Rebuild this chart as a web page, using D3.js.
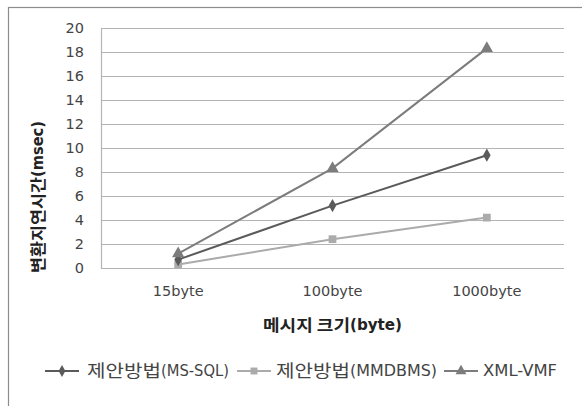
<!DOCTYPE html>
<html>
<head>
<meta charset="utf-8">
<script src="https://cdn.jsdelivr.net/npm/d3@7"></script>
<style>
  body { margin: 0; background: #fff; }
  text { font-family: "DejaVu Sans", "Noto Sans CJK KR", sans-serif; }
</style>
</head>
<body>
<div id="chart"></div>
<script>
const categories = ["15byte", "100byte", "1000byte"];
const seriesNames = ["제안방법(MS-SQL)", "제안방법(MMDBMS)", "XML-VMF"];
const msSql = [0.7, 5.2, 9.4];
const mmdbms = [0.3, 2.4, 4.2];
const xmlVmf = [1.2, 8.3, 18.3];
const yTicks = [0, 2, 4, 6, 8, 10, 12, 14, 16, 18, 20];
const xTitle = "메시지 크기(byte)";
const yTitle = "변환지연시간(msec)";

const width = 582, height = 406;
const margin = { left: 101, right: 18, top: 28, bottom: 138 };

const svg = d3.select("#chart").append("svg").attr("width", width).attr("height", height);

// outer frame (runs off the right and bottom edge)
svg.append("rect").attr("x", 8.5).attr("y", 7.5).attr("width", 600).attr("height", 420)
    .attr("fill", "none").attr("stroke", "#8c8c8c").attr("stroke-width", 1.2);

const x = d3.scaleBand().domain(categories).range([margin.left, width - margin.right]);
const y = d3.scaleLinear().domain([0, 20]).range([height - margin.bottom, margin.top]);

// split "한글(latin)" into the Korean run and the latin run
function splitRuns(s) {
    const i = s.indexOf("(");
    return i < 0 ? [s] : [s.slice(0, i), s.slice(i)];
}

// draws runs of text one after another, each squeezed to a given width
function drawRuns(g, x0, y0, runs, widths, style) {
    let cx = x0;
    runs.forEach((t, i) => {
        const korean = /[\uac00-\ud7a3]/.test(t);
        g.append("text").attr("x", cx).attr("y", y0).attr("dy", "0.35em")
            .attr("textLength", widths[i])
            .attr("lengthAdjust", "spacingAndGlyphs")
            .style("font-family", korean ? "'Noto Sans CJK KR'" : "'DejaVu Sans'")
            .style("font-size", korean ? style.kSize : style.lSize)
            .style("font-weight", style.weight).style("fill", style.fill)
            .text(t);
        cx += widths[i];
    });
}

// gridlines
svg.append("g").selectAll("line").data(yTicks).join("line")
    .attr("x1", margin.left).attr("x2", width - margin.right)
    .attr("y1", d => y(d) + 0.5).attr("y2", d => y(d) + 0.5)
    .attr("stroke", "#b4b4b4").attr("stroke-width", 1.2);
svg.append("line").attr("x1", margin.left + 0.5).attr("x2", margin.left + 0.5)
    .attr("y1", y(20)).attr("y2", y(0) + 1).attr("stroke", "#b4b4b4").attr("stroke-width", 1.2);

// y tick labels
svg.append("g").selectAll("text").data(yTicks).join("text")
    .attr("x", 84).attr("y", d => y(d)).attr("dy", "0.35em").attr("text-anchor", "end")
    .style("font-size", "14.5px").style("fill", "#444").text(d => d);

// x tick labels
svg.append("g").selectAll("text").data(categories).join("text")
    .attr("x", d => x(d) + x.bandwidth() / 2).attr("y", 291).attr("dy", "0.35em")
    .attr("text-anchor", "middle").style("font-size", "14.5px").style("fill", "#444").text(d => d);

// axis titles
drawRuns(svg.append("g"), 263, 325, splitRuns(xTitle), [87, 52],
    { kSize: "16px", lSize: "15px", weight: 700, fill: "#222" });
drawRuns(svg.append("g").attr("transform", "translate(38,273) rotate(-90)"), 0, 0, splitRuns(yTitle), [96, 56],
    { kSize: "16px", lSize: "15.5px", weight: 700, fill: "#222" });

const series = [
    { name: seriesNames[0], values: msSql, color: "#5a5a5a", symbol: d3.symbolDiamond, size: 50, x0: 45, w: [74, 68] },
    { name: seriesNames[1], values: mmdbms, color: "#ababab", symbol: d3.symbolSquare, size: 60, x0: 237, w: [74, 87] },
    { name: seriesNames[2], values: xmlVmf, color: "#7c7c7c", symbol: d3.symbolTriangle, size: 65, x0: 444, w: [74] }
];

const line = d3.line().x((d, i) => x(categories[i]) + x.bandwidth() / 2).y(d => y(d));

const drawOrder = [1, 0, 2];
drawOrder.forEach(k => {
    const s = series[k];
    svg.append("path").attr("d", line(s.values)).attr("fill", "none")
        .attr("stroke", s.color).attr("stroke-width", 2);
    svg.append("g").selectAll("path").data(s.values).join("path")
        .attr("transform", (d, i) => `translate(${x(categories[i]) + x.bandwidth() / 2},${y(d)})`)
        .attr("d", d3.symbol().type(s.symbol).size(s.size)).attr("fill", s.color);
});

// legend
const legendY = 371;
series.forEach(s => {
    const g = svg.append("g").attr("transform", `translate(${s.x0},${legendY})`);
    g.append("line").attr("x1", 0).attr("x2", 34).attr("y1", 0).attr("y2", 0)
        .attr("stroke", s.color).attr("stroke-width", 2);
    g.append("path").attr("transform", "translate(17,0)")
        .attr("d", d3.symbol().type(s.symbol).size(s.size * 0.8)()).attr("fill", s.color);
    drawRuns(g, s.x0 === 45 ? 42 : 39, 0, splitRuns(s.name), s.w,
        { kSize: "17px", lSize: "15px", weight: 400, fill: "#444" });
});
</script>
</body>
</html>
